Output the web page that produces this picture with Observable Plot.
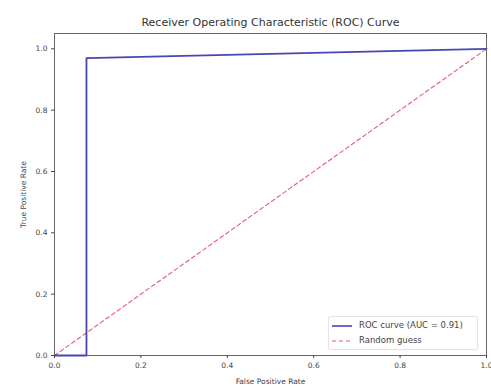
<!DOCTYPE html>
<html>
<head>
<meta charset="utf-8">
<script src="https://cdn.jsdelivr.net/npm/d3@7"></script>
<script src="https://cdn.jsdelivr.net/npm/@observablehq/plot@0.6"></script>
<style>
  body { margin: 0; background: #fff; font-family: "DejaVu Sans", sans-serif; }
  #wrap { position: relative; width: 491px; height: 387px; }
  #legend { position: absolute; left: 328px; top: 316px; width: 150px; font-size: 8.5px; color: #444; background: rgba(255,255,255,0.85); padding: 1px 3px; line-height: 15px; border: 1px solid #e4e4e4; border-radius: 2px; box-sizing: border-box; }
  #legend svg { vertical-align: middle; margin-right: 7px; }
</style>
</head>
<body>
<div id="wrap"></div>
<script>
const title = "Receiver Operating Characteristic (ROC) Curve";
const fpr = [0.0, 0.074, 0.074, 1.0];
const tpr = [0.0, 0.0, 0.97, 1.0];
const diagX = [0.0, 1.0];
const diagY = [0.0, 1.0];
const tickValues = [0.0, 0.2, 0.4, 0.6, 0.8, 1.0];
const rocLabel = "ROC curve (AUC = 0.91)";
const randLabel = "Random guess";
const rocColor = "#4646b4";
const randColor = "#e85a78";

const roc = fpr.map((x, i) => ({x, y: tpr[i]}));
const diag = diagX.map((x, i) => ({x, y: diagY[i]}));

const chart = Plot.plot({
  width: 491,
  height: 387,
  marginLeft: 54,
  marginRight: 5,
  marginTop: 33,
  marginBottom: 32,
  style: {fontFamily: "DejaVu Sans, sans-serif", fontSize: "7.5px", color: "#444", background: "#fff"},
  x: {domain: [0, 1]},
  y: {domain: [0, 1.05]},
  marks: [
    Plot.frame({stroke: "#666"}),
    Plot.line(diag, {x: "x", y: "y", stroke: randColor, strokeWidth: 1.1, strokeDasharray: "4,3"}),
    Plot.line(roc, {x: "x", y: "y", stroke: rocColor, strokeWidth: 1.8}),
    Plot.axisX({ticks: tickValues, tickFormat: d3.format(".1f"), tickSize: 3, tickPadding: 4, label: "False Positive Rate", labelAnchor: "center", labelArrow: "none", labelOffset: 28}),
    Plot.axisY({ticks: tickValues, tickFormat: d3.format(".1f"), tickSize: 3, tickPadding: 4, label: "True Positive Rate", labelAnchor: "center", labelArrow: "none", labelOffset: 34}),
    Plot.text([title], {frameAnchor: "top", dy: -15, fontSize: 11, fill: "#333"})
  ]
});
document.getElementById("wrap").appendChild(chart);

const legend = document.createElement("div");
legend.id = "legend";
legend.innerHTML =
  `<div><svg width="20" height="6"><line x1="0" y1="3" x2="20" y2="3" stroke="${rocColor}" stroke-width="1.6"/></svg>${rocLabel}</div>` +
  `<div><svg width="20" height="6"><line x1="0" y1="3" x2="20" y2="3" stroke="${randColor}" stroke-width="1" stroke-dasharray="4,3"/></svg>${randLabel}</div>`;
document.getElementById("wrap").appendChild(legend);
</script>
</body>
</html>
